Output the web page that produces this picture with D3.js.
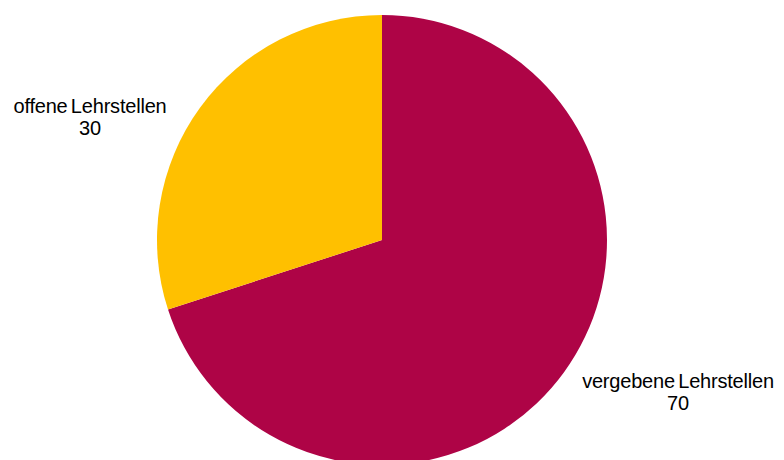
<!DOCTYPE html>
<html><head><meta charset="utf-8">
<script src="https://cdn.jsdelivr.net/npm/d3@7"></script>
<style>body{margin:0;background:#fff}svg{display:block}</style>
</head><body>
<script>
const categories = ["vergebene Lehrstellen", "offene Lehrstellen"];
const values = [70, 30];
const colors = ["#AE0446", "#FFC000"];

const W = 784, H = 460, cx = 382, cy = 240, R = 225;
const svg = d3.select("body").append("svg").attr("width", W).attr("height", H);
const data = categories.map((c, i) => ({cat: c, value: values[i], color: colors[i]}));
const pie = d3.pie().sort(null).value(d => d.value);
const arc = d3.arc().innerRadius(0).outerRadius(R);
const g = svg.append("g").attr("transform", `translate(${cx},${cy})`);
const arcs = pie(data);
g.selectAll("path").data(arcs).enter().append("path")
  .attr("d", arc).attr("fill", d => d.data.color);

const labelPos = [[678, 388], [90, 113]];
arcs.forEach((a, i) => {
  const t = svg.append("text").attr("text-anchor", "middle")
    .attr("font-family", "Liberation Sans, Arial, sans-serif")
    .attr("font-size", 20).attr("letter-spacing", -0.2).attr("word-spacing", -2).attr("fill", "#000");
  t.append("tspan").attr("x", labelPos[i][0]).attr("y", labelPos[i][1]).text(a.data.cat);
  t.append("tspan").attr("x", labelPos[i][0]).attr("y", labelPos[i][1] + 22).text(a.data.value);
});
</script>
</body></html>
